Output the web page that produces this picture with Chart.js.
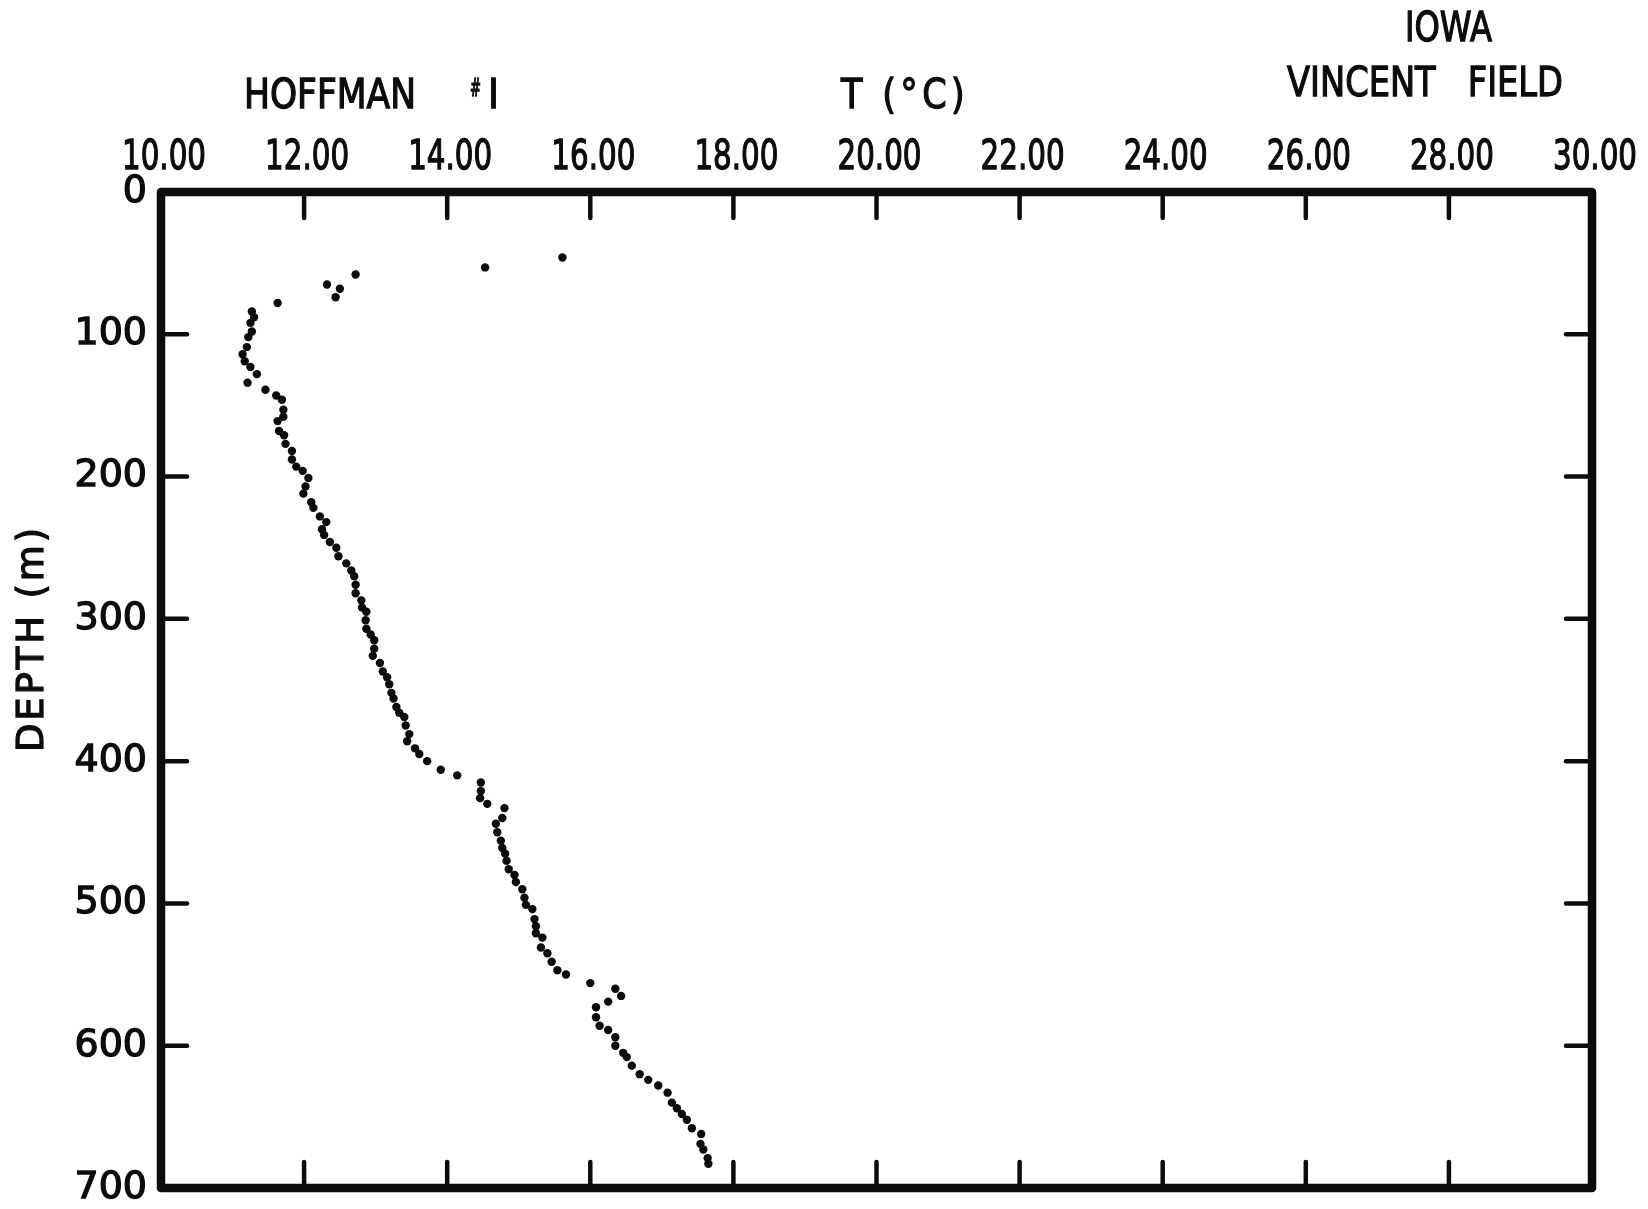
<!DOCTYPE html>
<html>
<head>
<meta charset="utf-8">
<script src="https://cdn.jsdelivr.net/npm/chart.js@4.4.1/dist/chart.umd.min.js"></script>
<style>
  html, body { margin: 0; padding: 0; background: #fff; }
</style>
</head>
<body>
<canvas id="chart" width="1648" height="1209"></canvas>
<script>
// Borehole log, Hoffman #1: depth (m) vs temperature (°C)
const DEPTH_M = [
  46, 53, 58, 65, 68, 74, 78, 84, 88, 92,
  98, 102, 109, 114, 119, 123, 128, 134, 139, 143,
  146, 153, 158, 161, 168, 171, 177, 182, 188, 193,
  196, 201, 207, 212, 218, 222, 228, 232, 237, 241,
  246, 250, 256, 261, 266, 270, 276, 282, 287, 292,
  295, 301, 307, 311, 315, 321, 326, 331, 337, 341,
  346, 352, 356, 362, 366, 369, 375, 381, 386, 391,
  395, 400, 406, 410, 415, 421, 426, 430, 433, 440,
  444, 450, 456, 461, 465, 470, 476, 480, 485, 490,
  496, 501, 504, 511, 516, 521, 524, 531, 535, 541,
  547, 550, 556, 560, 565, 569, 573, 580, 586, 589,
  594, 600, 605, 608, 614, 620, 624, 628, 633, 640,
  644, 648, 652, 658, 662, 669, 673, 679, 683,
];
const TEMP_C = [
  15.61, 14.53, 12.72, 12.32, 12.50, 12.44, 11.63, 11.27, 11.30, 11.25,
  11.27, 11.22, 11.20, 11.14, 11.17, 11.25, 11.34, 11.21, 11.46, 11.61,
  11.69, 11.71, 11.71, 11.63, 11.65, 11.72, 11.74, 11.83, 11.83, 11.89,
  11.98, 12.06, 12.02, 11.99, 12.10, 12.13, 12.22, 12.31, 12.25, 12.28,
  12.36, 12.45, 12.48, 12.59, 12.66, 12.70, 12.72, 12.72, 12.80, 12.81,
  12.87, 12.86, 12.87, 12.93, 12.98, 12.98, 12.96, 13.06, 13.10, 13.16,
  13.19, 13.22, 13.25, 13.29, 13.33, 13.40, 13.42, 13.47, 13.44, 13.55,
  13.61, 13.72, 13.91, 14.14, 14.47, 14.47, 14.46, 14.56, 14.80, 14.77,
  14.68, 14.70, 14.75, 14.77, 14.81, 14.83, 14.86, 14.94, 14.96, 15.05,
  15.08, 15.10, 15.19, 15.22, 15.24, 15.24, 15.33, 15.31, 15.40, 15.46,
  15.54, 15.66, 16.00, 16.35, 16.43, 16.25, 16.08, 16.08, 16.13, 16.25,
  16.35, 16.35, 16.46, 16.51, 16.58, 16.69, 16.81, 16.95, 17.08, 17.14,
  17.21, 17.28, 17.35, 17.42, 17.55, 17.54, 17.58, 17.64, 17.65,
];
const TEMP_TICKS = [10, 12, 14, 16, 18, 20, 22, 24, 26, 28, 30];
const DEPTH_TICKS = [0, 100, 200, 300, 400, 500, 600, 700];

const INK = "#0c0c0c";
const FAMILY = "'DejaVu Sans', sans-serif";
const TICK_LEN = 26;

// Thick frame plus inward tick marks on all four sides
const frameTicks = {
  id: "frameTicks",
  beforeDatasetsDraw(chart) {
    const { ctx, chartArea: a, scales: { x, y } } = chart;
    const seg = (x0, y0, x1, y1) => {
      ctx.beginPath();
      ctx.moveTo(x0, y0);
      ctx.lineTo(x1, y1);
      ctx.stroke();
    };
    ctx.save();
    ctx.strokeStyle = INK;
    ctx.lineCap = "round";
    ctx.lineWidth = 4.5;
    TEMP_TICKS.forEach((t) => {
      const px = x.getPixelForValue(t);
      seg(px, a.top, px, a.top + TICK_LEN);
      seg(px, a.bottom, px, a.bottom - TICK_LEN);
    });
    DEPTH_TICKS.forEach((d) => {
      const py = y.getPixelForValue(d);
      seg(a.left, py, a.left + TICK_LEN, py);
      seg(a.right, py, a.right - TICK_LEN, py);
    });
    ctx.lineWidth = 8.5;
    ctx.lineJoin = "round";
    ctx.strokeRect(a.left, a.top, a.right - a.left, a.bottom - a.top);
    ctx.restore();
  },
};

// Lettered headings and the narrow temperature labels; fillText's maxWidth
// squeezes the text to the condensed lettering width
const headings = {
  id: "headings",
  afterDraw(chart) {
    const { ctx, scales: { x } } = chart;
    const put = (text, px, py, size, width, opts = {}) => {
      ctx.save();
      ctx.translate(px, py);
      if (opts.rot) ctx.rotate(opts.rot);
      ctx.font = `${size}px ${FAMILY}`;
      if (opts.spacing) ctx.letterSpacing = opts.spacing;
      ctx.fillStyle = INK;
      ctx.strokeStyle = INK;
      ctx.lineWidth = 1.3;
      ctx.textAlign = opts.align || "left";
      ctx.textBaseline = "middle";
      ctx.fillText(text, 0, 0, width);
      ctx.strokeText(text, 0, 0, width);
      ctx.restore();
    };
    TEMP_TICKS.forEach((t) => {
      put(t.toFixed(2), x.getPixelForValue(t) + 3, 159, 40, 84, { align: "center" });
    });
    put("HOFFMAN", 244, 98, 40, 172);
    put("#", 470, 90, 24, 11);
    put("I", 488, 98, 40, 11);
    put("T (°C)", 841, 98, 40, 128, { spacing: "5px" });
    put("IOWA", 1405, 31, 40, 87);
    put("VINCENT   FIELD", 1287, 86, 40, 276);
    put("DEPTH (m)", 33, 752, 38, 227, { rot: -Math.PI / 2, spacing: "3px" });
  },
};

new Chart(document.getElementById("chart"), {
  type: "scatter",
  data: {
    datasets: [
      {
        data: DEPTH_M.map((d, i) => ({ x: TEMP_C[i], y: d })),
        pointRadius: 4.2,
        pointHoverRadius: 4.2,
        pointBorderWidth: 0,
        pointBackgroundColor: INK,
        showLine: false,
      },
    ],
  },
  options: {
    responsive: false,
    animation: false,
    devicePixelRatio: 1,
    layout: { padding: { top: 0, right: 56, bottom: 21, left: 0 } },
    plugins: { legend: { display: false }, tooltip: { enabled: false } },
    scales: {
      x: {
        type: "linear",
        position: "top",
        min: 10,
        max: 30,
        afterBuildTicks: (s) => {
          s.ticks = TEMP_TICKS.map((v) => ({ value: v }));
        },
        afterFit: (s) => {
          s.height = 192;
          s.paddingLeft = 0;
          s.paddingRight = 0;
        },
        grid: { display: false, drawTicks: false },
        border: { display: false },
        ticks: { display: false },
      },
      y: {
        type: "linear",
        reverse: true,
        min: 0,
        max: 700,
        afterBuildTicks: (s) => {
          s.ticks = DEPTH_TICKS.map((v) => ({ value: v }));
        },
        afterFit: (s) => {
          s.width = 161;
          s.paddingTop = 0;
          s.paddingBottom = 0;
        },
        grid: { display: false, drawTicks: false },
        border: { display: false },
        ticks: {
          color: INK,
          padding: 14,
          autoSkip: false,
          textStrokeColor: INK,
          textStrokeWidth: 1.3,
          font: { family: FAMILY, size: 38 },
        },
      },
    },
  },
  plugins: [frameTicks, headings],
});
</script>
</body>
</html>
